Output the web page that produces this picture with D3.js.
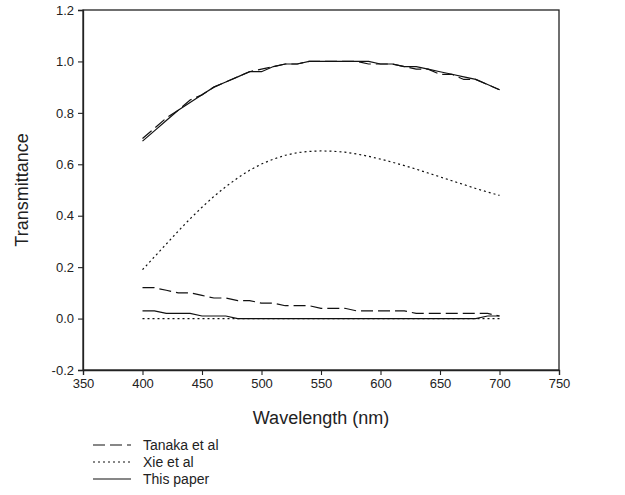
<!DOCTYPE html>
<html>
<head>
<meta charset="utf-8">
<script src="https://cdn.jsdelivr.net/npm/d3@7"></script>
<style>
  html, body { margin: 0; padding: 0; background: #fff; }
  svg text { font-family: "Liberation Sans", Arial, sans-serif; fill: #222; }
</style>
</head>
<body>
<svg id="chart" width="625" height="495"></svg>
<script>
// Wavelength sampling (nm)
const wavelengths = d3.range(400, 701, 10);

// Upper curves (transmittance)
const tanakaUpper = [0.70,0.74,0.78,0.81,0.85,0.87,0.90,0.92,0.94,0.96,0.97,0.98,0.99,0.99,1.00,1.00,1.00,1.00,1.00,0.99,0.99,0.99,0.98,0.97,0.97,0.95,0.95,0.93,0.93,0.91,0.89];
const xieUpper    = [0.190,0.240,0.290,0.340,0.388,0.433,0.475,0.513,0.547,0.577,0.601,0.620,0.635,0.645,0.650,0.652,0.651,0.647,0.640,0.631,0.620,0.608,0.595,0.581,0.566,0.551,0.536,0.521,0.506,0.492,0.479];
const paperUpper  = [0.69,0.73,0.77,0.81,0.84,0.87,0.90,0.92,0.94,0.96,0.96,0.98,0.99,0.99,1.00,1.00,1.00,1.00,1.00,1.00,0.99,0.99,0.98,0.98,0.97,0.96,0.95,0.94,0.93,0.91,0.89];

// Lower curves
const tanakaLower = [0.12,0.12,0.11,0.10,0.10,0.09,0.08,0.08,0.07,0.07,0.06,0.06,0.05,0.05,0.05,0.04,0.04,0.04,0.03,0.03,0.03,0.03,0.03,0.02,0.02,0.02,0.02,0.02,0.02,0.02,0.01];
const xieLower    = [0.00,0.00,0.00,0.00,0.00,0.00,0.00,0.00,0.00,0.00,0.00,0.00,0.00,0.00,0.00,0.00,0.00,0.00,0.00,0.00,0.00,0.00,0.00,0.00,0.00,0.00,0.00,0.00,0.00,0.00,0.00];
const paperLower  = [0.03,0.03,0.02,0.02,0.02,0.01,0.01,0.01,0.00,0.00,0.00,0.00,0.00,0.00,0.00,0.00,0.00,0.00,0.00,0.00,0.00,0.00,0.00,0.00,0.00,0.00,0.00,0.00,0.00,0.01,0.01];

// Axis ticks
const xTicks = [350,400,450,500,550,600,650,700,750];
const yTicks = [-0.2,0.0,0.2,0.4,0.6,0.8,1.0,1.2];

// Legend entries
const seriesNames = ["Tanaka et al", "Xie et al", "This paper"];
const seriesDash  = ["12,5", "2,3", null];

const svg = d3.select("#chart");
const m = { left: 83, right: 559, top: 10, bottom: 370 };

const x = d3.scaleLinear().domain([350, 750]).range([m.left, m.right]);
const y = d3.scaleLinear().domain([-0.2, 1.2]).range([m.bottom, m.top]);

// Frame
svg.append("rect")
  .attr("x", m.left).attr("y", m.top)
  .attr("width", m.right - m.left).attr("height", m.bottom - m.top)
  .attr("fill", "none").attr("stroke", "#222").attr("stroke-width", 1.3);

// Axes (plain hyphen for negative labels)
const yFmt = d => d.toFixed(1);
const xAxis = svg.append("g")
  .attr("transform", `translate(0,${m.bottom})`)
  .call(d3.axisBottom(x).tickValues(xTicks).tickSize(5).tickPadding(4).tickFormat(d3.format("d")));
const yAxis = svg.append("g")
  .attr("transform", `translate(${m.left},0)`)
  .call(d3.axisLeft(y).tickValues(yTicks).tickSize(5).tickPadding(4).tickFormat(yFmt));

[xAxis, yAxis].forEach(g => {
  g.select(".domain").attr("stroke", "#222").attr("stroke-width", 1.3);
  g.selectAll(".tick line").attr("stroke", "#222").attr("stroke-width", 1.1);
  g.selectAll(".tick text").attr("font-size", 13).attr("fill", "#222")
    .attr("font-family", "'Liberation Sans', Arial, sans-serif");
});

// Axis titles
svg.append("text")
  .attr("x", (m.left + m.right) / 2).attr("y", 424)
  .attr("text-anchor", "middle").attr("font-size", 18)
  .text("Wavelength (nm)");
svg.append("text")
  .attr("transform", `translate(28,${(m.top + m.bottom) / 2}) rotate(-90)`)
  .attr("text-anchor", "middle").attr("font-size", 18)
  .text("Transmittance");

// Curves
const line = d3.line()
  .x((d, i) => x(wavelengths[i]))
  .y(d => y(d));

const curves = [
  { values: tanakaUpper, dash: seriesDash[0] },
  { values: tanakaLower, dash: seriesDash[0] },
  { values: xieUpper,    dash: seriesDash[1] },
  { values: xieLower,    dash: seriesDash[1] },
  { values: paperUpper,  dash: seriesDash[2] },
  { values: paperLower,  dash: seriesDash[2] }
];

svg.append("g").selectAll("path")
  .data(curves)
  .join("path")
  .attr("d", c => line(c.values))
  .attr("fill", "none")
  .attr("stroke", "#111")
  .attr("stroke-width", 1.2)
  .attr("stroke-dasharray", c => c.dash);

// Legend
const legend = svg.append("g");
seriesNames.forEach((name, i) => {
  const ly = 445 + i * 17;
  legend.append("line")
    .attr("x1", 93).attr("x2", 131).attr("y1", ly).attr("y2", ly)
    .attr("stroke", "#111").attr("stroke-width", 1.2)
    .attr("stroke-dasharray", seriesDash[i]);
  legend.append("text")
    .attr("x", 143).attr("y", ly).attr("dy", "0.35em")
    .attr("font-size", 14)
    .text(name);
});
</script>
</body>
</html>
